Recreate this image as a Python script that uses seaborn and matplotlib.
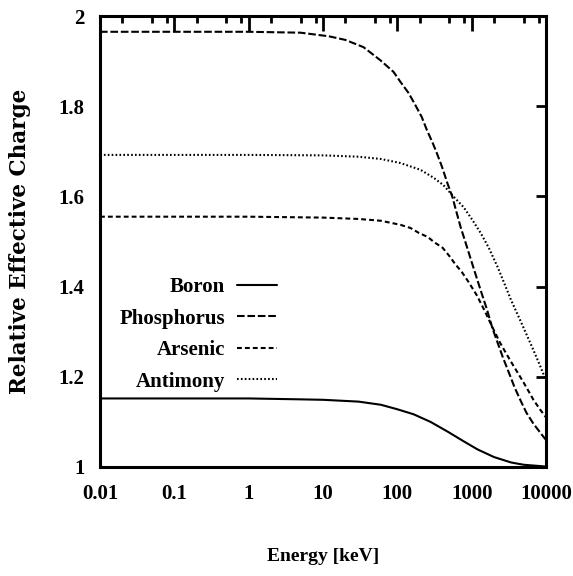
import numpy as np
import pandas as pd
import matplotlib
matplotlib.use("Agg")
import matplotlib.pyplot as plt
from matplotlib.ticker import LogLocator, NullFormatter
import seaborn as sns

# ---------------- data ----------------
boron_e = [0.01, 0.1, 1, 5, 10, 30, 60, 100, 165, 280, 480, 780, 1200, 2000, 3400, 5000, 10000]
boron_q = [1.152, 1.152, 1.152, 1.150, 1.149, 1.145, 1.138, 1.128, 1.117, 1.100, 1.078, 1.057, 1.039, 1.022, 1.010, 1.005, 1.001]

phos_e = [0.01, 0.1, 1, 5, 12, 20, 35, 59, 89, 110, 142, 174, 213, 250, 300, 340, 400, 470, 550,
          630, 710, 830, 980, 1150, 1320, 1600, 1900, 2630, 3240, 3790, 4680, 5470, 6770, 8850, 10000]
phos_q = [1.965, 1.965, 1.965, 1.963, 1.955, 1.947, 1.931, 1.902, 1.876, 1.854, 1.829, 1.803, 1.776, 1.747, 1.718, 1.696, 1.665, 1.630, 1.599,
          1.563, 1.532, 1.497, 1.459, 1.423, 1.392, 1.350, 1.308, 1.243, 1.205, 1.176, 1.143, 1.120, 1.096, 1.071, 1.060]

arsenic_e = [0.01, 1, 10, 30, 60, 110, 150, 195, 257, 310, 407, 500, 600, 740, 910, 1170, 1500, 1900, 2400, 3000, 3630, 4270, 5010, 5880, 6770, 8450, 10000]
arsenic_q = [1.555, 1.555, 1.553, 1.550, 1.546, 1.537, 1.530, 1.519, 1.510, 1.499, 1.486, 1.468, 1.450, 1.432, 1.410, 1.381, 1.346, 1.310, 1.276, 1.248, 1.225, 1.206, 1.187, 1.167, 1.149, 1.126, 1.110]

antimony_e = [0.01, 1, 10, 30, 60, 110, 205, 310, 417, 575, 780, 1020, 1320, 1700, 2240, 2630, 3390, 4680, 6460, 8450, 10000]
antimony_q = [1.692, 1.692, 1.691, 1.688, 1.683, 1.674, 1.659, 1.641, 1.625, 1.599, 1.576, 1.548, 1.519, 1.486, 1.443, 1.415, 1.370, 1.319, 1.267, 1.222, 1.192]

series_names = ["Boron", "Phosphorus", "Arsenic", "Antimony"]
series_data = [(boron_e, boron_q), (phos_e, phos_q), (arsenic_e, arsenic_q), (antimony_e, antimony_q)]

x_ticks = [0.01, 0.1, 1, 10, 100, 1000, 10000]
x_tick_labels = ["0.01", "0.1", "1", "10", "100", "1000", "10000"]
y_ticks = [1.0, 1.2, 1.4, 1.6, 1.8, 2.0]
y_tick_labels = ["1", "1.2", "1.4", "1.6", "1.8", "2"]

# ---------------- styling ----------------
sns.set_style("white")
plt.rcParams["font.family"] = ["Liberation Serif", "DejaVu Serif"]
plt.rcParams["font.weight"] = "bold"
plt.rcParams["lines.scale_dashes"] = False
plt.rcParams["text.color"] = "black"
plt.rcParams["axes.labelcolor"] = "black"
plt.rcParams["xtick.color"] = "black"
plt.rcParams["ytick.color"] = "black"

dash_styles = {
    "Boron": None,
    "Phosphorus": (5.5, 2.0),
    "Arsenic": (3.5, 2.2),
    "Antimony": (1.2, 1.6),
}

fig = plt.figure(figsize=(5.73, 5.76), dpi=100)
ax = fig.add_axes([100 / 573, (576 - 467) / 576, 446 / 573, 451 / 576])

frames = []
for name, (e, q) in zip(series_names, series_data):
    frames.append(pd.DataFrame({"Energy": e, "Charge": q, "Dopant": name}))
df = pd.concat(frames, ignore_index=True)

handles = []
for name in series_names:
    sub = df[df["Dopant"] == name]
    sns.lineplot(data=sub, x="Energy", y="Charge", ax=ax, color="black",
                 linewidth=1.5, estimator=None, sort=True, label=name)
    line = ax.lines[-1]
    if dash_styles[name] is not None:
        line.set_dashes(dash_styles[name])
    handles.append(line)

ax.set_xscale("log")
ax.set_xlim(0.01, 10000)
ax.set_ylim(1, 2)

ax.set_xticks(x_ticks)
ax.set_xticklabels(x_tick_labels)
ax.xaxis.set_minor_locator(LogLocator(base=10, subs=[2, 5, 8], numticks=100))
ax.xaxis.set_minor_formatter(NullFormatter())
ax.set_yticks(y_ticks)
ax.set_yticklabels(y_tick_labels)

ax.tick_params(which="both", direction="in", top=True, right=True, color="black",
               labelcolor="black")
ax.tick_params(axis="x", which="major", length=11, width=2, pad=12, labelsize=15)
ax.tick_params(axis="x", which="minor", length=5, width=2)
ax.tick_params(axis="y", which="major", length=7, width=2, pad=11, labelsize=15)
for lab in ax.get_xticklabels() + ax.get_yticklabels():
    lab.set_fontweight("bold")

for sp in ax.spines.values():
    sp.set_visible(True)
    sp.set_color("black")
    sp.set_linewidth(2.2)

ax.set_xlabel("Energy [keV]", fontsize=14, fontweight="bold", color="black")
ax.set_ylabel("Relative Effective Charge", fontsize=15.5, fontweight="bold",
              family=["DejaVu Serif"], color="black")
ax.xaxis.set_label_coords(0.5, -0.18)
ax.yaxis.set_label_coords(-0.155, 0.5)

leg = ax.legend(handles=handles, labels=series_names, loc="upper right",
                bbox_to_anchor=(0.397, 0.421), frameon=False, markerfirst=False,
                handlelength=1.9, handletextpad=0.6, labelspacing=0.55,
                borderpad=0, borderaxespad=0, labelcolor="black",
                prop={"family": "Liberation Serif", "weight": "bold", "size": 15})

fig.savefig("out.png", dpi=100)
